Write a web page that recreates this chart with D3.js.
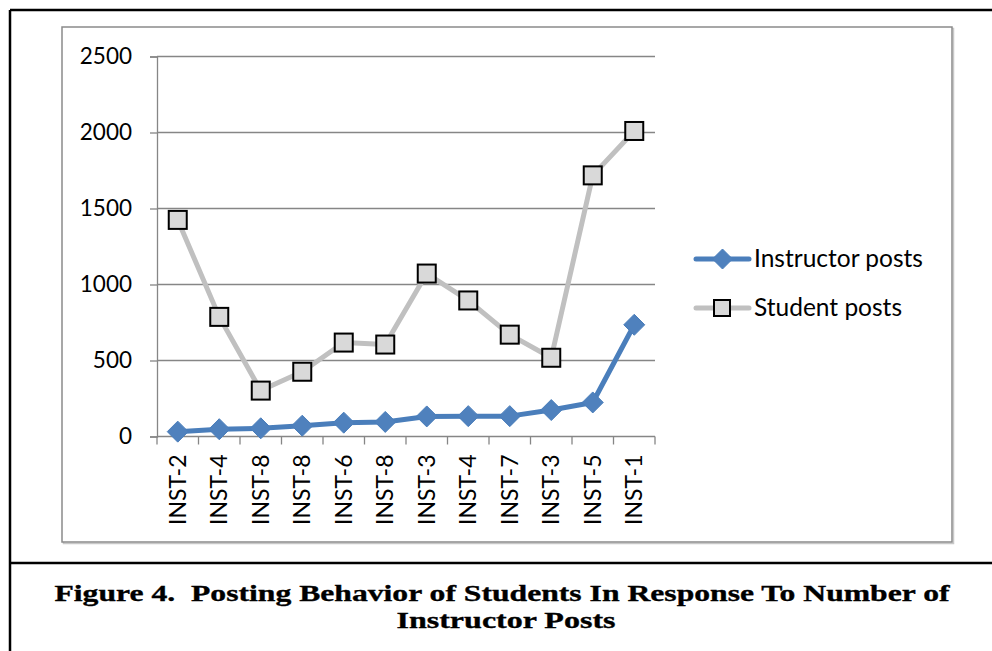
<!DOCTYPE html>
<html>
<head>
<meta charset="utf-8">
<script src="https://cdnjs.cloudflare.com/ajax/libs/d3/7.8.5/d3.min.js"></script>
<style>
  html, body { margin: 0; padding: 0; background: #ffffff; }
  svg { display: block; }
</style>
</head>
<body>
<svg id="fig" width="992" height="651"></svg>
<script>
// Instructors, ordered by number of instructor posts
const categories = ["INST-2", "INST-4", "INST-8", "INST-8", "INST-6", "INST-8",
                    "INST-3", "INST-4", "INST-7", "INST-3", "INST-5", "INST-1"];
const instructorPosts = [32, 48, 54, 71, 91, 96, 132, 134, 134, 174, 224, 735];
const studentPosts = [1425, 787, 302, 426, 618, 605, 1072, 895, 670, 518, 1718, 2010];
const yTicks = [0, 500, 1000, 1500, 2000, 2500];
const seriesNames = ["Instructor posts", "Student posts"];
const captionLines = ["Figure 4.  Posting Behavior of Students In Response To Number of",
                      "Instructor Posts"];

const svg = d3.select("#fig");
const FONT = "Lato, 'Open Sans', sans-serif";

// Page frame
const frame = svg.append("g").attr("stroke", "#000").attr("stroke-width", 2.5);
frame.append("line").attr("x1", 10).attr("x2", 992).attr("y1", 10).attr("y2", 10);
frame.append("line").attr("x1", 10).attr("x2", 10).attr("y1", 10).attr("y2", 651);
frame.append("line").attr("x1", 10).attr("x2", 992).attr("y1", 563).attr("y2", 563);

// Chart area border with a light drop shadow
svg.append("rect").attr("x", 63.5).attr("y", 28.5).attr("width", 890).attr("height", 515)
  .attr("fill", "none").attr("stroke", "#c8c8c8").attr("stroke-width", 1.5);
svg.append("rect").attr("x", 62).attr("y", 27).attr("width", 890).attr("height", 515)
  .attr("fill", "#fff").attr("stroke", "#8a8a8a").attr("stroke-width", 1.5);

// Scales
const plot = { left: 157, right: 655, top: 56.5, bottom: 436.5 };
const x = d3.scaleBand().domain(d3.range(categories.length))
  .range([plot.left, plot.right]).padding(0);
const y = d3.scaleLinear().domain([0, 2500]).range([plot.bottom, plot.top]);
const cx = i => x(i) + x.bandwidth() / 2;

// Horizontal gridlines
svg.append("g").selectAll("line").data(yTicks.filter(v => v > 0)).join("line")
  .attr("x1", plot.left).attr("x2", plot.right)
  .attr("y1", d => y(d)).attr("y2", d => y(d))
  .attr("stroke", "#868686").attr("stroke-width", 1.3);

// Y axis
const yAxis = svg.append("g").attr("transform", `translate(${plot.left},0)`)
  .call(d3.axisLeft(y).tickValues(yTicks).tickSize(7).tickPadding(18).tickFormat(d3.format("d")));
yAxis.select(".domain").attr("stroke", "#868686").attr("stroke-width", 1.3);
yAxis.selectAll(".tick line").attr("stroke", "#868686").attr("stroke-width", 1.3);
yAxis.selectAll("text").attr("font-family", FONT).attr("font-size", 22.5).attr("fill", "#000");

// X axis: tick marks sit on category boundaries
const xAxisG = svg.append("g");
xAxisG.append("line").attr("x1", plot.left).attr("x2", plot.right)
  .attr("y1", plot.bottom).attr("y2", plot.bottom)
  .attr("stroke", "#868686").attr("stroke-width", 1.3);
xAxisG.selectAll("line.tk").data(d3.range(categories.length + 1)).join("line")
  .attr("class", "tk")
  .attr("x1", i => plot.left + i * x.bandwidth()).attr("x2", i => plot.left + i * x.bandwidth())
  .attr("y1", plot.bottom).attr("y2", plot.bottom + 8)
  .attr("stroke", "#868686").attr("stroke-width", 1.3);
xAxisG.selectAll("text").data(categories).join("text")
  .attr("transform", (d, i) => `translate(${cx(i) + 8},${plot.bottom + 18}) rotate(-90)`)
  .attr("text-anchor", "end")
  .attr("font-family", FONT).attr("font-size", 23).attr("fill", "#000")
  .text(d => d);

// Series lines
const line = d3.line().x((d, i) => cx(i)).y(d => y(d));
svg.append("path").datum(studentPosts).attr("d", line)
  .attr("fill", "none").attr("stroke", "#c0c0c0").attr("stroke-width", 5)
  .attr("stroke-linejoin", "round");
svg.append("path").datum(instructorPosts).attr("d", line)
  .attr("fill", "none").attr("stroke", "#4a7ebb").attr("stroke-width", 5)
  .attr("stroke-linejoin", "round");

// Markers
const diamond = (px, py, r) => `M${px},${py - r}L${px + r},${py}L${px},${py + r}L${px - r},${py}Z`;
svg.append("g").selectAll("path").data(instructorPosts).join("path")
  .attr("d", (d, i) => diamond(cx(i), y(d), 10.5))
  .attr("fill", "#4f81bd").attr("stroke", "#4a7ebb").attr("stroke-width", 1);
svg.append("g").selectAll("rect").data(studentPosts).join("rect")
  .attr("x", (d, i) => cx(i) - 9).attr("y", d => y(d) - 9)
  .attr("width", 18).attr("height", 18)
  .attr("fill", "#d9d9d9").attr("stroke", "#000").attr("stroke-width", 2);

// Legend
const legend = svg.append("g");
const legendRows = [
  { name: seriesNames[0], yy: 259, color: "#4a7ebb", marker: "diamond" },
  { name: seriesNames[1], yy: 308, color: "#c0c0c0", marker: "square" }
];
legendRows.forEach(r => {
  legend.append("line").attr("x1", 696).attr("x2", 749).attr("y1", r.yy).attr("y2", r.yy)
    .attr("stroke", r.color).attr("stroke-width", 5).attr("stroke-linecap", "round");
  if (r.marker === "diamond") {
    legend.append("path").attr("d", diamond(722.5, r.yy, 10))
      .attr("fill", "#4f81bd").attr("stroke", "#4a7ebb").attr("stroke-width", 1);
  } else {
    legend.append("rect").attr("x", 714).attr("y", r.yy - 8).attr("width", 16).attr("height", 16)
      .attr("fill", "#d9d9d9").attr("stroke", "#000").attr("stroke-width", 2);
  }
  legend.append("text").attr("x", 754).attr("y", r.yy + 8)
    .attr("font-family", FONT).attr("font-size", 24.5).attr("fill", "#000")
    .text(r.name);
});

// Caption
const caption = svg.append("g")
  .attr("font-family", "'Liberation Serif', 'DejaVu Serif', serif")
  .attr("font-weight", "bold").attr("font-size", 24).attr("fill", "#000")
  .attr("stroke", "#000").attr("stroke-width", 0.35)
  .attr("text-anchor", "middle");
caption.append("text").attr("x", 502).attr("y", 601)
  .attr("textLength", 895).attr("lengthAdjust", "spacingAndGlyphs")
  .attr("xml:space", "preserve")
  .text(captionLines[0]);
caption.append("text").attr("x", 506).attr("y", 628)
  .attr("textLength", 219).attr("lengthAdjust", "spacingAndGlyphs")
  .text(captionLines[1]);
</script>
</body>
</html>
